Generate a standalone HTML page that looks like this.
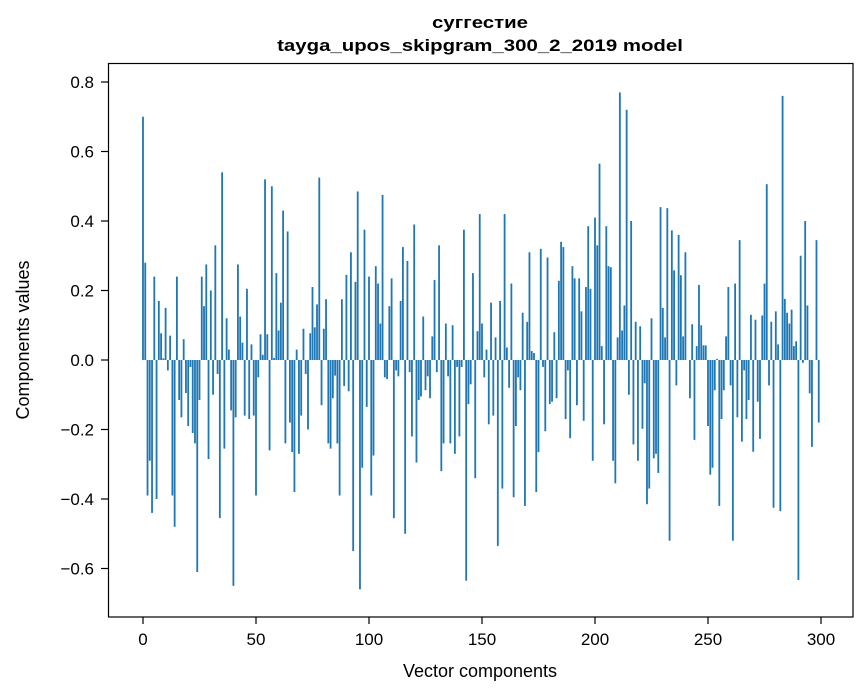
<!DOCTYPE html>
<html><head><meta charset="utf-8"><style>
html,body{margin:0;padding:0;background:#fff;}
svg{display:block;font-family:"Liberation Sans","DejaVu Sans",sans-serif;}
</style></head><body>
<svg id="chart" width="867" height="696" viewBox="0 0 867 696" xmlns="http://www.w3.org/2000/svg">
<rect x="0" y="0" width="867" height="696" fill="#fff"/>
<g transform="translate(480,0) scale(1.2,1)">
<text x="0" y="28" text-anchor="middle" font-size="17" font-weight="bold">суггестие</text>
<text x="0" y="51" text-anchor="middle" font-size="17" font-weight="bold">tayga_upos_skipgram_300_2_2019 model</text>
</g>
<g id="bars"></g>
<g id="xticks"></g>
<g id="yticks"></g>
<rect x="108.5" y="63.5" width="744.5" height="553.5" fill="none" stroke="#000" stroke-width="1.2"/>
<text x="480" y="677" text-anchor="middle" font-size="18">Vector components</text>
<text transform="translate(29,340) rotate(-90)" text-anchor="middle" font-size="18">Components values</text>
</svg>
<script>
const componentValues = [
0.70,0.28,-0.39,-0.29,-0.44,0.24,-0.40,0.17,0.077,0.005,0.15,-0.03,0.07,-0.39,-0.48,0.24,-0.115,-0.165,0.06,-0.095,
-0.19,-0.02,-0.21,-0.24,-0.61,-0.115,0.24,0.155,0.275,-0.285,0.20,-0.10,0.33,-0.04,-0.455,0.54,-0.255,0.12,0.03,-0.145,
-0.65,-0.165,0.275,0.125,0.05,-0.16,0.205,-0.17,0.045,-0.16,
-0.39,-0.05,0.074,0.015,0.52,0.074,-0.26,0.50,0.006,0.25,0.085,0.165,0.43,-0.24,0.37,-0.18,-0.265,-0.38,0.03,-0.27,
-0.16,0.09,-0.04,-0.20,0.077,0.21,0.094,0.16,0.525,-0.13,0.09,0.175,-0.24,-0.255,-0.11,-0.045,-0.24,-0.39,0.175,-0.075,
0.245,-0.09,0.31,-0.55,0.225,0.485,-0.66,-0.31,0.375,-0.135,
0.24,-0.39,-0.275,0.27,0.22,0.105,0.475,-0.05,-0.055,0.155,0.235,-0.455,-0.03,-0.047,0.17,0.325,-0.50,0.285,-0.035,-0.22,
0.39,-0.295,-0.115,-0.105,0.125,-0.087,-0.047,-0.11,0.068,0.23,-0.035,0.33,-0.32,-0.24,0.105,-0.047,-0.24,0.10,-0.27,-0.02,
-0.22,-0.02,0.375,-0.635,-0.127,-0.07,0.25,-0.34,0.083,0.42,
0.105,-0.05,0.03,-0.185,0.165,-0.16,0.065,-0.535,0.17,-0.37,0.42,0.036,-0.08,0.22,-0.395,-0.19,-0.05,-0.087,0.136,-0.42,
0.11,0.31,0.026,0.02,-0.38,-0.265,0.32,-0.02,-0.205,0.295,-0.127,-0.12,0.08,-0.11,0.228,0.34,0.325,-0.17,-0.03,-0.225,
0.27,0.235,-0.13,0.235,0.14,-0.175,0.21,0.385,0.205,-0.29,
0.41,0.33,0.565,0.04,-0.185,0.385,0.27,0.267,-0.29,-0.355,0.065,0.77,0.085,0.157,0.72,-0.10,0.40,-0.243,0.11,-0.29,
0.097,-0.198,-0.067,-0.415,-0.37,0.12,-0.283,-0.27,-0.325,0.44,0.15,0.065,0.437,-0.52,0.373,0.258,-0.073,0.36,0.244,0.068,
0.31,0.0,-0.11,0.103,-0.23,0.04,0.216,0.10,0.042,0.042,
-0.19,-0.33,-0.31,-0.087,0.003,-0.42,-0.17,-0.087,0.068,0.21,-0.073,-0.52,0.22,-0.165,0.345,-0.235,-0.03,-0.17,-0.115,0.13,
-0.264,0.116,-0.12,-0.227,0.128,0.22,0.506,-0.073,0.11,-0.425,0.14,0.045,-0.435,0.76,0.176,0.136,0.105,0.145,0.04,0.054,
-0.633,0.30,-0.008,0.40,0.157,-0.096,-0.25,0.0,0.345,-0.18
];
const xTickValues = [0,50,100,150,200,250,300];
const yTickValues = [-0.6,-0.4,-0.2,0.0,0.2,0.4,0.6,0.8];

const NS = "http://www.w3.org/2000/svg";
function xScale(i){ return 143 + i * (821 - 143) / 300; }
function yScale(v){ return 360 - v * 347.5; }
const barW = 0.8 * (821 - 143) / 300;

const barsG = document.getElementById('bars');
componentValues.forEach(function(v, i){
  const r = document.createElementNS(NS, 'rect');
  
  
  const y0 = yScale(0), y1 = yScale(v);
  r.setAttribute('x', xScale(i) - barW / 2);
  r.setAttribute('y', Math.min(y0, y1));
  r.setAttribute('width', barW);
  r.setAttribute('height', Math.max(Math.abs(y1 - y0), 0.01));
  r.setAttribute('fill', '#1f77b4');
  barsG.appendChild(r);
});

const xg = document.getElementById('xticks');
xTickValues.forEach(function(t){
  const x = xScale(t);
  const l = document.createElementNS(NS, 'line');
  
  
  l.setAttribute('x1', x); l.setAttribute('x2', x);
  l.setAttribute('y1', 617); l.setAttribute('y2', 624);
  l.setAttribute('stroke', '#000'); l.setAttribute('stroke-width', '1.2');
  xg.appendChild(l);
  const tx = document.createElementNS(NS, 'text');
  
  
  tx.setAttribute('x', x); tx.setAttribute('y', 645);
  tx.setAttribute('text-anchor', 'middle'); tx.setAttribute('font-size', '17');
  tx.textContent = String(t);
  xg.appendChild(tx);
});

const yg = document.getElementById('yticks');
yTickValues.forEach(function(t){
  const y = yScale(t);
  const l = document.createElementNS(NS, 'line');
  
  
  l.setAttribute('x1', 101); l.setAttribute('x2', 108);
  l.setAttribute('y1', y); l.setAttribute('y2', y);
  l.setAttribute('stroke', '#000'); l.setAttribute('stroke-width', '1.2');
  yg.appendChild(l);
  const tx = document.createElementNS(NS, 'text');
  
  
  tx.setAttribute('x', 94); tx.setAttribute('y', y + 6);
  tx.setAttribute('text-anchor', 'end'); tx.setAttribute('font-size', '17');
  tx.textContent = (t < 0 ? '\u2212' : '') + Math.abs(t).toFixed(1);
  yg.appendChild(tx);
});
</script>
</body></html>
